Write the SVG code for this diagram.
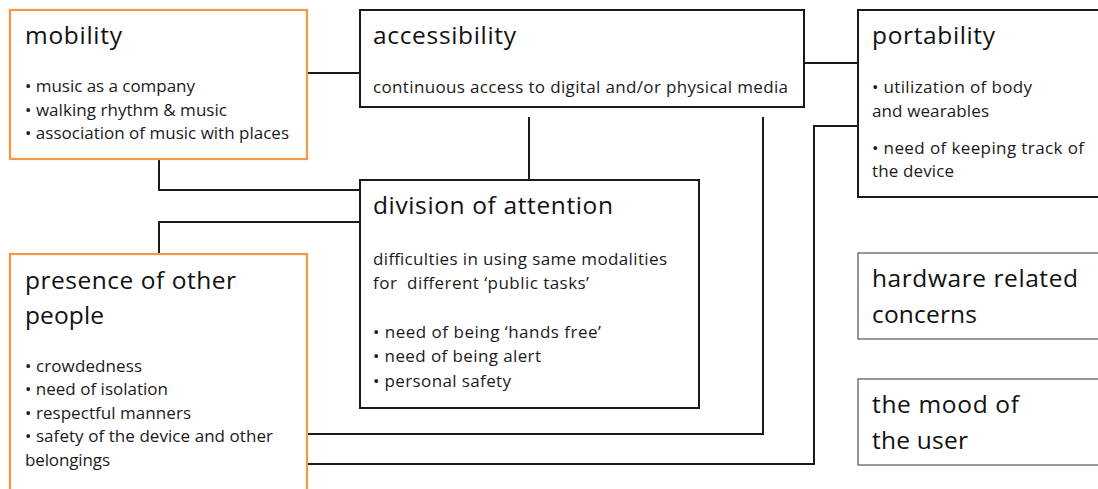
<svg xmlns="http://www.w3.org/2000/svg" width="1098" height="489" viewBox="0 0 1098 489">
<style>
.bg{fill:#ffffff}
.box{fill:#ffffff;stroke:#1a1a1a;stroke-width:2}
.obox{fill:#ffffff;stroke:#F79646;stroke-width:2.2}
.gbox{fill:#ffffff;stroke:#555555;stroke-width:1.2}
.conn{fill:none;stroke:#1a1a1a;stroke-width:2}
.t{font-family:"Open Sans","Liberation Sans",sans-serif;font-size:24.5px;fill:#111111}
.b{font-family:"Open Sans","Liberation Sans",sans-serif;font-size:17px;fill:#1a1a1a}
</style>
<rect class="bg" x="0" y="0" width="1098" height="489"/>
<g id="connectors">
<polyline class="conn" points="307,73 360,73"/>
<polyline class="conn" points="804,63 858,63"/>
<polyline class="conn" points="529,117 529,180"/>
<polyline class="conn" points="159,159 159,190 360,190"/>
<polyline class="conn" points="360,222 159,222 159,254"/>
<polyline class="conn" points="763,117 763,434 307,434"/>
<polyline class="conn" points="858,126 814,126 814,464 307,464"/>
</g>
<g id="mobility">
<rect class="obox" x="10" y="10" width="297" height="149"/>
<text class="t" x="25" y="44" textLength="97" lengthAdjust="spacing">mobility</text>
<text class="b" x="25" y="92" textLength="170" lengthAdjust="spacing">• music as a company</text>
<text class="b" x="25" y="116" textLength="202" lengthAdjust="spacing">• walking rhythm &amp; music</text>
<text class="b" x="25" y="139" textLength="264" lengthAdjust="spacing">• association of music with places</text>
</g>
<g id="accessibility">
<rect class="box" x="360" y="10" width="444" height="97"/>
<text class="t" x="373" y="44" textLength="143" lengthAdjust="spacing">accessibility</text>
<text class="b" x="373" y="93" textLength="415" lengthAdjust="spacing">continuous access to digital and/or physical media</text>
</g>
<g id="portability">
<rect class="box" x="858" y="10" width="250" height="187"/>
<text class="t" x="872" y="44" textLength="123" lengthAdjust="spacing">portability</text>
<text class="b" x="872" y="93" textLength="160" lengthAdjust="spacing">• utilization of body</text>
<text class="b" x="872" y="117" textLength="117" lengthAdjust="spacing">and wearables</text>
<text class="b" x="872" y="154" textLength="212" lengthAdjust="spacing">• need of keeping track of</text>
<text class="b" x="872" y="177" textLength="82" lengthAdjust="spacing">the device</text>
</g>
<g id="division">
<rect class="box" x="360" y="180" width="339" height="228"/>
<text class="t" x="373" y="214" textLength="240" lengthAdjust="spacing">division of attention</text>
<text class="b" x="373" y="265" textLength="294" lengthAdjust="spacing">difficulties in using same modalities</text>
<text class="b" x="373" y="289" textLength="216" lengthAdjust="spacing" xml:space="preserve">for  different ‘public tasks’</text>
<text class="b" x="373" y="338" textLength="228" lengthAdjust="spacing">• need of being ‘hands free’</text>
<text class="b" x="373" y="362" textLength="168" lengthAdjust="spacing">• need of being alert</text>
<text class="b" x="373" y="387" textLength="138" lengthAdjust="spacing">• personal safety</text>
</g>
<g id="presence">
<rect class="obox" x="10" y="254" width="297" height="250"/>
<text class="t" x="25" y="289" textLength="211" lengthAdjust="spacing">presence of other</text>
<text class="t" x="25" y="324" textLength="79" lengthAdjust="spacing">people</text>
<text class="b" x="25" y="372" textLength="117" lengthAdjust="spacing">• crowdedness</text>
<text class="b" x="25" y="395" textLength="143" lengthAdjust="spacing">• need of isolation</text>
<text class="b" x="25" y="419" textLength="166" lengthAdjust="spacing">• respectful manners</text>
<text class="b" x="25" y="442" textLength="248" lengthAdjust="spacing">• safety of the device and other</text>
<text class="b" x="25" y="466" textLength="85" lengthAdjust="spacing">belongings</text>
</g>
<g id="hardware">
<rect class="gbox" x="858" y="253" width="250" height="86"/>
<text class="t" x="872" y="287" textLength="206" lengthAdjust="spacing">hardware related</text>
<text class="t" x="872" y="323" textLength="105" lengthAdjust="spacing">concerns</text>
</g>
<g id="mood">
<rect class="gbox" x="858" y="379" width="250" height="86"/>
<text class="t" x="872" y="413" textLength="147" lengthAdjust="spacing">the mood of</text>
<text class="t" x="872" y="449" textLength="96" lengthAdjust="spacing">the user</text>
</g>
</svg>
